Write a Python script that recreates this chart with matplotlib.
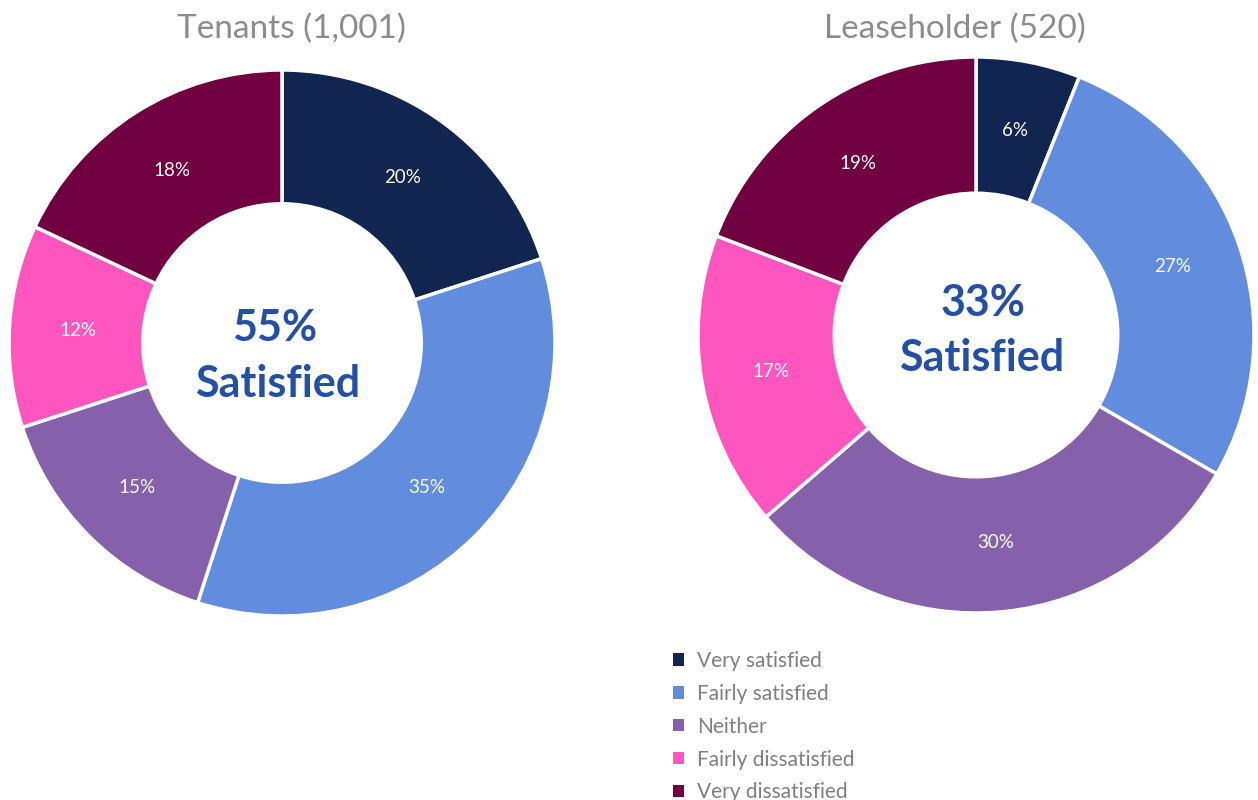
import matplotlib
matplotlib.use("Agg")
import matplotlib.pyplot as plt
from matplotlib.patches import Patch

plt.rcParams['font.family'] = ['Lato', 'DejaVu Sans']

categories = ["Very satisfied", "Fairly satisfied", "Neither",
              "Fairly dissatisfied", "Very dissatisfied"]
colors = ['#10254f', '#628ddf', '#8561ac', '#ff55be', '#700040']

tenants = [20, 35, 15, 12, 18]
leaseholders = [6, 27, 30, 17, 19]
titles = ["Tenants (1,001)", "Leaseholder (520)"]
centre_pct = ["55%", "33%"]

W, H = 1258, 800
fig = plt.figure(figsize=(W / 100, H / 100), dpi=100)


def px(x, y):
    return x / W, 1 - y / H


def donut(cx, cy, r, values):
    ax = fig.add_axes([(cx - r) / W, (H - cy - r) / H, 2 * r / W, 2 * r / H])
    ax.pie(values, colors=colors, startangle=90, counterclock=False,
           autopct=lambda p: f"{p:.0f}%", pctdistance=0.75, radius=1,
           wedgeprops=dict(width=0.49, edgecolor='white', linewidth=2.5),
           textprops=dict(color='white', fontsize=13.5))
    ax.set_xlim(-1, 1)
    ax.set_ylim(-1, 1)
    ax.set_aspect('equal')
    ax.axis('off')


donut(282, 343, 273, tenants)
donut(976, 335, 278, leaseholders)

# titles
fig.text(*px(291, 29), titles[0], ha='center', va='center',
         fontsize=24, color='#8c8c8c')
fig.text(*px(955, 29), titles[1], ha='center', va='center',
         fontsize=24, color='#8c8c8c')

# centre labels
big = dict(ha='center', va='center', fontsize=31, fontweight='bold',
           color='#2350a6')
fig.text(*px(275, 328), centre_pct[0], **big)
fig.text(*px(278, 384), "Satisfied", **big)
fig.text(*px(983, 303), centre_pct[1], **big)
fig.text(*px(982, 358), "Satisfied", **big)

handles = [Patch(facecolor=c, edgecolor='none') for c in colors]
fig.legend(handles, categories, loc='upper left',
           bbox_to_anchor=(654 / W, 1 - 632 / H), frameon=False,
           fontsize=15, labelcolor='#7f7f7f', handlelength=0.55,
           handleheight=0.55, handletextpad=0.6, labelspacing=0.62)

fig.savefig("out.png", dpi=100, facecolor='white')
